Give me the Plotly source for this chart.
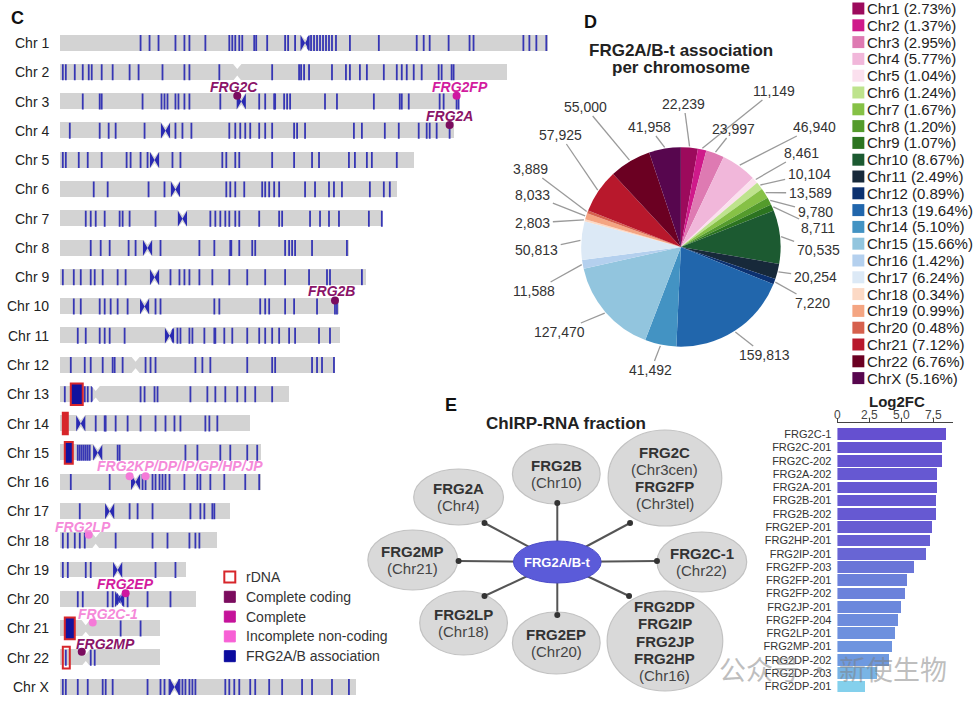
import math
import plotly.graph_objects as go

W, H = 974, 709
FONT = "Liberation Sans, Arial, Helvetica, sans-serif"


def fx(x):
    return x / W


def fy(y):
    return 1 - y / H


# ---------------- Panel C data (positions in Mb) ----------------
chrom_names = ["Chr 1", "Chr 2", "Chr 3", "Chr 4", "Chr 5", "Chr 6", "Chr 7", "Chr 8",
               "Chr 9", "Chr 10", "Chr 11", "Chr 12", "Chr 13", "Chr 14", "Chr 15",
               "Chr 16", "Chr 17", "Chr 18", "Chr 19", "Chr 20", "Chr 21", "Chr 22", "Chr X"]
chrom_len_mb = [245, 224, 200, 197.5, 177.5, 169, 161.5, 145, 153.5, 140, 140.5, 138,
                115, 95.5, 101, 101, 85.5, 78.5, 63, 68, 50, 50, 148.5]
centromere_mb = [123, 89, 91, 53, 47.5, 58, 61.5, 44, 47.5, 42.5, 55, 38, 18, 10.5, 19,
                 38, 25, 18, 29, 30, 13, 13, 57.5]
centromere_assoc = [1, 0, 1, 1, 1, 1, 1, 1, 1, 1, 1, 0, 0, 1, 1, 1, 1, 0, 1, 1, 0, 0, 1]

T1 = [40.5, 45, 49.5, 58, 62.5, 65, 73, 85, 86.5, 88, 90, 91.5, 97.5, 98.5, 104, 113, 114.5,
      118, 124.5, 126, 127.5, 129, 130.5, 132, 133.5, 135, 136.5, 138.5, 145.5, 160, 179,
      182.5, 185.5, 195, 205.5, 207.5, 232.5, 235.5, 239, 244]
T2 = [1.5, 3, 7.5, 11.5, 14.5, 16, 21, 26.5, 35, 39.5, 51.5, 62.5, 65, 80, 106.5, 120, 121,
      122.5, 125, 136.5, 143.5, 145.5, 150.5, 154, 162.5, 169, 171.5, 174, 177.5, 181.5,
      190, 191.5, 196.5, 197.5]
T3 = [11.5, 20, 21, 41.5, 51, 52.5, 54, 58, 59.5, 62.5, 65, 80.5, 100, 103, 107.5, 108,
      112.5, 114, 115.5, 133, 139, 157.5, 170.5, 171.5, 175, 190.5, 192.5, 199, 200]
T4 = [5, 20, 24.5, 28, 42.5, 58, 61.5, 66, 85, 88, 90.5, 93, 95.5, 100, 103, 106.5, 117.5,
      119, 123, 147.5, 151.5, 163, 170, 180, 184, 185.5, 189, 195.5]
T5 = [1.5, 3, 9.5, 14, 21, 33.5, 35.5, 40.5, 44, 56.5, 60.5, 81.5, 83.5, 88, 90, 106.5,
      117.5, 126.5, 130, 145, 148, 154, 156.5, 169]
T6 = [17, 24, 44.5, 52.5, 83.5, 85.5, 88, 92.5, 101.5, 103, 105, 107.5, 110, 123, 128, 135,
      137.5, 141.5, 155.5, 162.5, 165.5]
T7 = [13, 15.5, 18, 22.5, 30, 31.5, 35, 48, 75.5, 78, 80.5, 83, 85, 88, 90, 100, 110, 111.5,
      125.5, 130.5, 135, 140, 155, 161.5]
T8 = [15.5, 20.5, 25, 34.5, 38, 50.5, 70, 77.5, 85.5, 86, 90, 96.5, 98, 113, 115, 116.5,
      118, 126.5, 144]
T9 = [1.5, 7, 10.5, 15.5, 17.5, 21.5, 29, 33, 55.5, 60, 62.5, 65, 70, 76.5, 85, 94, 103,
      113, 125, 134, 135.5, 151.5]
T10 = [7, 10.5, 20, 22.5, 25.5, 29, 34, 48, 50.5, 77.5, 80, 100.5, 103, 105, 113, 117.5,
       129, 138, 139]
T11 = [9, 13, 20, 22.5, 25, 32.5, 56.5, 59, 60.5, 65, 66.5, 72.5, 77.5, 78, 82.5, 86.5, 94,
       100, 103, 106.5, 110, 115, 118, 130, 135.5]
T12 = [5.5, 12.5, 15.5, 21.5, 26.5, 27.5, 31.5, 43, 45.5, 48, 68, 71.5, 75.5, 94, 106.5,
       108, 126.5, 129, 131.5, 137.5]
T13 = [2.5, 12.5, 14, 16, 40.5, 42.5, 47.5, 49, 65.5, 74, 78, 83, 89, 93, 98, 106.5]
T14 = [18, 22.5, 23, 28, 34, 40.5, 48, 53, 57.5, 60.5, 73, 75, 79]
T15 = [9, 10, 11, 12, 13, 14, 15, 29, 30, 63, 69, 80.5, 85.5, 94, 99]
T16 = [5.5, 25, 41.5, 43, 46.5, 48, 50, 51.5, 53, 55, 62.5, 69, 70.5, 75.5, 82.5, 93, 100]
T17 = [10, 35, 39, 46.5, 65.5, 70.5, 72.5, 76.5, 77.5]
T18 = [1.5, 4, 7.5, 10, 12.5, 28, 46.5, 54, 65, 68, 70]
T19 = [1.5, 4, 13, 15.5, 48, 58]
T20 = [9, 11.5, 24, 26.5, 29, 30, 31.5, 34, 44, 55.5]
T21 = [30.5, 40.5]
T22 = [3, 15.5, 17.5]
TX = [1.5, 3, 9, 14, 21.5, 23, 26.5, 44, 50.5, 52.5, 55, 60, 61.5, 63, 65, 66.5, 68, 83,
      85, 87.5, 90, 95.5, 98, 105, 111.5, 121.5, 126.5, 136.5, 145]
assoc_ticks = [T1, T2, T3, T4, T5, T6, T7, T8, T9, T10, T11, T12, T13, T14, T15, T16, T17,
               T18, T19, T20, T21, T22, TX]

rdna_chrom = [13, 14, 15, 21, 22]
rdna_start = [5.5, 1.5, 2.5, 2.5, 1.5]
rdna_end = [11.5, 4, 6.5, 7.5, 5]
rdna_fill = ["assoc", "rdna", "assoc", "assoc", "none"]

gene_dot_chrom = [3, 3, 4, 10, 16, 16, 18, 20, 21, 22]
gene_dot_pos = [89, 199, 195.5, 138, 35, 43, 14.5, 33, 16.5, 11]
gene_dot_class = ["coding", "complete", "coding", "coding", "noncoding", "noncoding",
                  "noncoding", "complete", "noncoding", "coding"]
gene_label_text = ["FRG2C", "FRG2FP", "FRG2A", "FRG2B", "FRG2KP/DP/IP/GP/HP/JP", "FRG2LP",
                   "FRG2EP", "FRG2C-1", "FRG2MP"]
gene_label_dot = [0, 1, 2, 3, 4, 6, 7, 8, 9]

legend_c_labels = ["rDNA", "Complete coding", "Complete", "Incomplete non-coding",
                   "FRG2A/B association"]

# ---------------- Panel D data ----------------
pie_labels = ["Chr1", "Chr2", "Chr3", "Chr4", "Chr5", "Chr6", "Chr7", "Chr8", "Chr9",
              "Chr10", "Chr11", "Chr12", "Chr13", "Chr14", "Chr15", "Chr16", "Chr17",
              "Chr18", "Chr19", "Chr20", "Chr21", "Chr22", "ChrX"]
pie_values = [22239, 11149, 23997, 46940, 8461, 10104, 13589, 9780, 8711, 70535, 20254,
              7220, 159813, 41492, 127470, 11588, 50813, 2803, 8033, 3889, 57925, 55000,
              41958]

# ---------------- Panel E data ----------------
fc_genes = ["FRG2C-1", "FRG2C-201", "FRG2C-202", "FRG2A-202", "FRG2A-201", "FRG2B-201",
            "FRG2B-202", "FRG2EP-201", "FRG2HP-201", "FRG2IP-201", "FRG2FP-203",
            "FRG2FP-201", "FRG2FP-202", "FRG2JP-201", "FRG2FP-204", "FRG2LP-201",
            "FRG2MP-201", "FRG2DP-202", "FRG2DP-203", "FRG2DP-201"]
fc_values = [8.5, 8.2, 8.2, 7.85, 7.85, 7.72, 7.72, 7.46, 7.27, 6.93, 6.02, 5.44, 5.31,
             4.97, 4.74, 4.53, 4.32, 4.06, 3.1, 2.19]

# ---------------- styles ----------------
pie_colors = ["#9c0a5c", "#cf1a8a", "#de7ab2", "#f1b7da", "#fbe0ee", "#bee38d", "#86c146",
              "#549b2c", "#2c7420", "#1c5a31", "#17293a", "#0c3170", "#2166ac", "#4393c3",
              "#92c5de", "#b4d0ee", "#dce9f6", "#fcd9c5", "#f4a582", "#d6604d", "#b8182c",
              "#6b0022", "#57064e"]
class_color = {"coding": "#7b0c5e", "complete": "#cf17a0", "noncoding": "#f57ad8"}
label_color = {"coding": "#8a1468", "complete": "#d21c9e", "noncoding": "#f58ad9"}
TICK_BLUE = "#3636b4"
RDNA_RED = "#d7262b"

fig = go.Figure()

# ================= Panel C =================
n = len(chrom_names)
rows = list(range(n))
HALF = 0.273

fig.add_trace(go.Bar(x=chrom_len_mb, y=rows, orientation="h", width=2 * HALF,
                     marker=dict(color="#d3d3d3", line=dict(width=0)),
                     hoverinfo="skip", showlegend=False, xaxis="x", yaxis="y"))

tx, ty = [], []
for i, lst in enumerate(assoc_ticks):
    for p in lst:
        tx += [p, p, None]
        ty += [i - HALF, i + HALF, None]
fig.add_trace(go.Scatter(x=tx, y=ty, mode="lines", line=dict(color=TICK_BLUE, width=1.8),
                         hoverinfo="skip", showlegend=False, xaxis="x", yaxis="y"))

CW = 2.3
bx, by, nx, ny = [], [], [], []
for i, c in enumerate(centromere_mb):
    if centromere_assoc[i]:
        bx += [c - CW, c, c - CW, c - CW, None, c + CW, c, c + CW, c + CW, None]
        by += [i - HALF, i, i + HALF, i - HALF, None, i - HALF, i, i + HALF, i - HALF, None]
    t, b = i - HALF - 0.03, i + HALF + 0.03
    nx += [c - CW, c + CW, c, c - CW, None, c - CW, c + CW, c, c - CW, None]
    ny += [t, t, i - 0.11, t, None, b, b, i + 0.11, b, None]
fig.add_trace(go.Scatter(x=bx, y=by, mode="lines", fill="toself", fillcolor="#2a2ab2",
                         line=dict(width=0, color="#2a2ab2"), hoverinfo="skip",
                         showlegend=False, xaxis="x", yaxis="y"))
fig.add_trace(go.Scatter(x=nx, y=ny, mode="lines", fill="toself", fillcolor="white",
                         line=dict(width=0, color="white"), hoverinfo="skip",
                         showlegend=False, xaxis="x", yaxis="y"))

fig.add_trace(go.Scatter(x=gene_dot_pos, y=[c - 1 - 0.2 for c in gene_dot_chrom],
                         mode="markers",
                         marker=dict(size=8, color=[class_color[k] for k in gene_dot_class]),
                         hoverinfo="skip", showlegend=False, xaxis="x", yaxis="y"))

fill_map = {"assoc": "#12129e", "rdna": RDNA_RED, "none": "rgba(0,0,0,0)"}
for c, s, e, f in zip(rdna_chrom, rdna_start, rdna_end, rdna_fill):
    i = c - 1
    fig.add_shape(type="rect", xref="x", yref="y", x0=s, x1=e, y0=i - 0.37, y1=i + 0.37,
                  line=dict(color=RDNA_RED, width=2), fillcolor=fill_map[f])

annotations = []


def ann(text, x, y, size, color="#333", xanchor="center", yanchor="middle",
        xref="paper", yref="paper", family=FONT, **kw):
    d = dict(text=text, x=x, y=y, xref=xref, yref=yref, showarrow=False,
             xanchor=xanchor, yanchor=yanchor,
             font=dict(size=size, color=color, family=family))
    d.update(kw)
    annotations.append(d)


for i, name in enumerate(chrom_names):
    ann(name, fx(48), i, 14, "#222", xanchor="right", yref="y")

label_shift = [(-3, 15), (3, 15), (0, 15), (-3, 15), (50, 16), (-6, 14), (0, 15), (15, 14),
               (24, 14)]
for txt, di, (sx, sy) in zip(gene_label_text, gene_label_dot, label_shift):
    ann("<b><i>%s</i></b>" % txt, gene_dot_pos[di], gene_dot_chrom[di] - 1, 14,
        label_color[gene_dot_class[di]], xref="x", yref="y", xshift=sx, yshift=sy)

ann("<b>C</b>", fx(6), fy(18), 18, "#111", xanchor="left")

# legend C
leg_fill = ["white", "#7b0c5e", "#c5139a", "#f760d5", "#0b0b9e"]
leg_line = [RDNA_RED, "#7b0c5e", "#c5139a", "#f760d5", "#0b0b9e"]
for k, lab in enumerate(legend_c_labels):
    yc = 577 + 19.8 * k
    fig.add_shape(type="rect", xref="paper", yref="paper", x0=fx(222), x1=fx(233),
                  y0=fy(yc + 5.5), y1=fy(yc - 5.5), fillcolor=leg_fill[k],
                  line=dict(color=leg_line[k], width=2 if k == 0 else 1))
    ann(lab, fx(242), fy(yc), 14, "#333", xanchor="left")

# ================= Panel D =================
PCX, PCY, PR = 680, 247, 100
fig.add_trace(go.Pie(values=pie_values, labels=pie_labels, sort=False, direction="clockwise",
                     rotation=0, marker=dict(colors=pie_colors, line=dict(width=0)),
                     textinfo="none", hoverinfo="label+value", showlegend=False,
                     domain=dict(x=[fx(PCX - PR), fx(PCX + PR)],
                                 y=[fy(PCY + PR), fy(PCY - PR)])))

pie_label_px = [(683, 104), (773, 91), (733, 129), (814, 127), (801, 153), (809, 174),
                (810, 193), (815, 212), (818, 228), (818, 250), (815, 277), (812, 303),
                (764, 355), (650, 370), (558, 332), (533, 291), (535, 250), (531, 223),
                (531, 195), (529, 169), (559, 135), (584, 107), (648, 127)]
total = float(sum(pie_values))
cum = 0.0
for v, (lx, ly) in zip(pie_values, pie_label_px):
    mid = (cum + v / 2.0) / total * 2 * math.pi
    cum += v
    ex = PCX + (PR + 1) * math.sin(mid)
    ey = PCY - (PR + 1) * math.cos(mid)
    txt = "{:,}".format(v)
    tw = sum(3.9 if ch == "," else 7.8 for ch in txt)
    th = 14
    dx, dy = ex - lx, ey - ly
    tlist = []
    if abs(dx) > 1e-6:
        tlist.append((tw / 2 + 3) / abs(dx))
    if abs(dy) > 1e-6:
        tlist.append((th / 2 + 2) / abs(dy))
    t = min(tlist)
    sx_, sy_ = lx + dx * t, ly + dy * t
    fig.add_shape(type="line", xref="paper", yref="paper", x0=fx(ex), y0=fy(ey),
                  x1=fx(sx_), y1=fy(sy_), line=dict(color="#9a9a9a", width=1.3))
    ann(txt, fx(lx), fy(ly), 14, "#333")

ann("<b>D</b>", fx(581), fy(22), 18, "#111", xanchor="left")
ann("<b>FRG2A/B-t association</b>", fx(680), fy(50), 17, "#222")
ann("<b>per chromosome</b>", fx(680), fy(68), 17, "#222")

for k, (lab, v) in enumerate(zip(pie_labels, pie_values)):
    yc = 8.5 + 16.8 * k
    fig.add_shape(type="rect", xref="paper", yref="paper", x0=fx(852), x1=fx(864),
                  y0=fy(yc + 6), y1=fy(yc - 6), fillcolor=pie_colors[k],
                  line=dict(width=0))
    ann("%s (%.2f%%)" % (lab, v / total * 100), fx(865), fy(yc), 15, "#222",
        xanchor="left")

# ================= Panel E network =================
ann("<b>E</b>", fx(441), fy(405), 18, "#111", xanchor="left")
ann("<b>ChIRP-RNA fraction</b>", fx(565), fy(423), 17, "#222")

CX, CY = 556, 562
nodes = [
    dict(lines=[("FRG2B", 1), ("(Chr10)", 0)], c=(555, 474), r=(44, 30), dot=(556, 503)),
    dict(lines=[("FRG2A", 1), ("(Chr4)", 0)], c=(457, 497), r=(45, 28), dot=(483, 523)),
    dict(lines=[("FRG2MP", 1), ("(Chr21)", 0)], c=(411, 560), r=(45, 30), dot=(457, 561)),
    dict(lines=[("FRG2LP", 1), ("(Chr18)", 0)], c=(462, 623), r=(44, 32), dot=(483, 596)),
    dict(lines=[("FRG2EP", 1), ("(Chr20)", 0)], c=(555, 643), r=(44, 31), dot=(556, 615)),
    dict(lines=[("FRG2C", 1), ("(Chr3cen)", 0), ("FRG2FP", 1), ("(Chr3tel)", 0)],
         c=(664, 478), r=(57, 48), dot=(629, 523)),
    dict(lines=[("FRG2C-1", 1), ("(Chr22)", 0)], c=(701, 562), r=(45, 30), dot=(656, 561)),
    dict(lines=[("FRG2DP", 1), ("FRG2IP", 1), ("FRG2JP", 1), ("FRG2HP", 1), ("(Chr16)", 0)],
         c=(664, 641), r=(58, 50), dot=(628, 596)),
]
for nd in nodes:
    dx_, dy_ = nd["dot"]
    fig.add_shape(type="line", xref="paper", yref="paper", x0=fx(CX), y0=fy(CY),
                  x1=fx(dx_), y1=fy(dy_), line=dict(color="#555", width=2))
for nd in nodes:
    (cx, cy), (rx, ry) = nd["c"], nd["r"]
    fig.add_shape(type="circle", xref="paper", yref="paper", x0=fx(cx - rx), x1=fx(cx + rx),
                  y0=fy(cy + ry), y1=fy(cy - ry), fillcolor="#d9d9d9",
                  line=dict(color="#c2c2c2", width=1.2))
    nl = len(nd["lines"])
    for j, (t, b) in enumerate(nd["lines"]):
        yy = cy + (j - (nl - 1) / 2.0) * 17.3
        ann("<b>%s</b>" % t if b else t, fx(cx), fy(yy), 15, "#333" if b else "#444")
for nd in nodes:
    dx_, dy_ = nd["dot"]
    fig.add_shape(type="circle", xref="paper", yref="paper", x0=fx(dx_ - 3), x1=fx(dx_ + 3),
                  y0=fy(dy_ + 3), y1=fy(dy_ - 3), fillcolor="#333", line=dict(width=0))
fig.add_shape(type="circle", xref="paper", yref="paper", x0=fx(CX - 44), x1=fx(CX + 44),
              y0=fy(CY + 21), y1=fy(CY - 21), fillcolor="#5b5bd9",
              line=dict(color="#4b4bc9", width=1))
ann("<b>FRG2A/B-t</b>", fx(CX), fy(CY), 13, "white")

# ================= Panel E bars =================
fig.add_trace(go.Bar(x=fc_values, y=list(range(len(fc_genes))), orientation="h", width=0.88,
                     marker=dict(color=fc_values, cmin=min(fc_values), cmax=max(fc_values),
                                 colorscale=[[0, "#84d0ec"], [0.14, "#79b5e5"],
                                             [0.3, "#6e98e0"], [0.55, "#6b7cd9"],
                                             [0.8, "#675fd3"], [1, "#6550d0"]],
                                 line=dict(width=0)),
                     hoverinfo="x+text", text=fc_genes, textposition="none",
                     showlegend=False, xaxis="x2", yaxis="y2"))
ann("<b>Log2FC</b>", fx(897), fy(401), 15, "#222")

# watermark
ann("公众号 · 新使生物", fx(833), fy(668), 27, "rgba(125,125,125,0.5)",
    family="Noto Sans CJK SC")

fig.update_layout(
    width=W, height=H, margin=dict(l=0, r=0, t=0, b=0),
    paper_bgcolor="white", plot_bgcolor="rgba(0,0,0,0)",
    font=dict(family=FONT, color="#333"),
    bargap=0,
    xaxis=dict(domain=[fx(57), fx(547)], range=[0, 245], visible=False, fixedrange=True),
    yaxis=dict(domain=[fy(701.6), fy(28.4)], range=[22.5, -0.5], visible=False,
               fixedrange=True),
    xaxis2=dict(domain=[fx(837), fx(953)], anchor="y2", side="top", range=[0, 9.05],
                tickvals=[0, 2.5, 5, 7.5], ticktext=["0", "2.5", "5.0", "7.5"],
                showline=True, linecolor="#444", linewidth=1, ticks="outside", ticklen=4,
                tickcolor="#444", showgrid=False, zeroline=False, ticklabelstandoff=-6,
                tickfont=dict(size=12, color="#444", family=FONT)),
    yaxis2=dict(domain=[fy(693), fy(423)], anchor="x2", range=[19.5, -0.85],
                tickvals=list(range(len(fc_genes))), ticktext=fc_genes, showgrid=False,
                zeroline=False, showline=False, ticks="", ticklabelstandoff=5,
                tickfont=dict(size=11, color="#333", family=FONT)),
    annotations=annotations,
)

fig.write_html("out.html",
               config={"displayModeBar": False},
               post_script="document.body.style.margin='0px';"
                           "document.body.style.overflow='hidden';")
